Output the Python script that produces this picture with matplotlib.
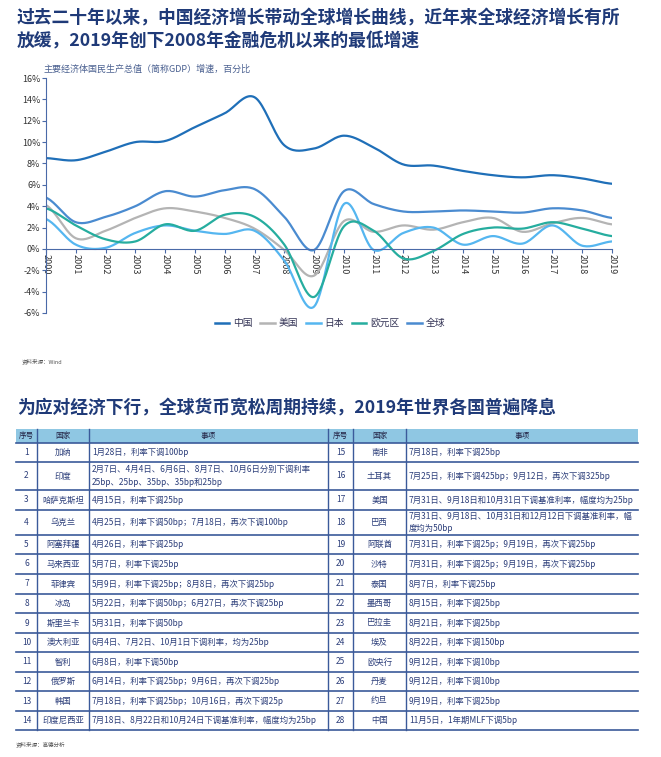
import numpy as np
import matplotlib
matplotlib.use("Agg")
import matplotlib.pyplot as plt
from matplotlib.lines import Line2D

plt.rcParams['font.family'] = ['Noto Sans CJK SC', 'DejaVu Sans']

years = list(range(2000, 2020))
china = [8.5, 8.3, 9.1, 10.0, 10.1, 11.4, 12.7, 14.2, 9.7, 9.4, 10.6, 9.5, 7.9, 7.8, 7.3, 6.9, 6.7, 6.9, 6.6, 6.1]
usa = [4.1, 1.0, 1.7, 2.9, 3.8, 3.5, 2.9, 1.9, -0.1, -2.5, 2.6, 1.6, 2.2, 1.8, 2.5, 2.9, 1.6, 2.4, 2.9, 2.3]
japan = [2.8, 0.4, 0.1, 1.5, 2.2, 1.7, 1.4, 1.7, -1.1, -5.4, 4.2, -0.1, 1.5, 2.0, 0.4, 1.2, 0.5, 2.2, 0.3, 0.7]
euro = [3.8, 2.2, 0.9, 0.7, 2.3, 1.7, 3.2, 3.0, 0.4, -4.5, 2.1, 1.7, -0.9, -0.2, 1.4, 2.0, 1.9, 2.5, 1.9, 1.2]
world = [4.8, 2.5, 3.0, 4.0, 5.4, 4.9, 5.5, 5.6, 3.0, -0.1, 5.4, 4.2, 3.5, 3.5, 3.6, 3.5, 3.4, 3.8, 3.6, 2.9]
series_names = ['中国', '美国', '日本', '欧元区', '全球']
series_colors = ['#1f6fb8', '#b4b4b4', '#55b6f0', '#26ad9f', '#4a8bd0']

left_rows = [
    ('1', '加纳', '1月28日，利率下调100bp'),
    ('2', '印度', '2月7日、4月4日、6月6日、8月7日、10月6日分别下调利率\n25bp、25bp、35bp、35bp和25bp'),
    ('3', '哈萨克斯坦', '4月15日，利率下调25bp'),
    ('4', '乌克兰', '4月25日，利率下调50bp；7月18日，再次下调100bp'),
    ('5', '阿塞拜疆', '4月26日，利率下调25bp'),
    ('6', '马来西亚', '5月7日，利率下调25bp'),
    ('7', '菲律宾', '5月9日，利率下调25bp；8月8日，再次下调25bp'),
    ('8', '冰岛', '5月22日，利率下调50bp；6月27日，再次下调25bp'),
    ('9', '斯里兰卡', '5月31日，利率下调50bp'),
    ('10', '澳大利亚', '6月4日、7月2日、10月1日下调利率，均为25bp'),
    ('11', '智利', '6月8日，利率下调50bp'),
    ('12', '俄罗斯', '6月14日，利率下调25bp；9月6日，再次下调25bp'),
    ('13', '韩国', '7月18日，利率下调25bp；10月16日，再次下调25p'),
    ('14', '印度尼西亚', '7月18日、8月22日和10月24日下调基准利率，幅度均为25bp'),
]
right_rows = [
    ('15', '南非', '7月18日，利率下调25bp'),
    ('16', '土耳其', '7月25日，利率下调425bp；9月12日，再次下调325bp'),
    ('17', '美国', '7月31日、9月18日和10月31日下调基准利率，幅度均为25bp'),
    ('18', '巴西', '7月31日、9月18日、10月31日和12月12日下调基准利率，幅\n度均为50bp'),
    ('19', '阿联酋', '7月31日，利率下调25p；9月19日，再次下调25bp'),
    ('20', '沙特', '7月31日，利率下调25p；9月19日，再次下调25bp'),
    ('21', '泰国', '8月7日，利率下调25bp'),
    ('22', '墨西哥', '8月15日，利率下调25bp'),
    ('23', '巴拉圭', '8月21日，利率下调25bp'),
    ('24', '埃及', '8月22日，利率下调150bp'),
    ('25', '欧央行', '9月12日，利率下调10bp'),
    ('26', '丹麦', '9月12日，利率下调10bp'),
    ('27', '约旦', '9月19日，利率下调25bp'),
    ('28', '中国', '11月5日，1年期MLF下调5bp'),
]

W, H = 661, 757
fig = plt.figure(figsize=(W / 100, H / 100), dpi=100)
navy = '#1f3a78'

def smooth(x, y, n=20):
    x = np.asarray(x, float); y = np.asarray(y, float)
    P = np.concatenate([[y[0]], y, [y[-1]]])
    xs, ys = [], []
    for i in range(len(x) - 1):
        p0, p1, p2, p3 = P[i], P[i + 1], P[i + 2], P[i + 3]
        t = np.linspace(0, 1, n, endpoint=False)
        ys.append(0.5 * (2 * p1 + (-p0 + p2) * t + (2 * p0 - 5 * p1 + 4 * p2 - p3) * t ** 2 + (-p0 + 3 * p1 - 3 * p2 + p3) * t ** 3))
        xs.append(x[i] + t * (x[i + 1] - x[i]))
    xs.append([x[-1]]); ys.append([y[-1]])
    return np.concatenate(xs), np.concatenate(ys)

# Titles
fig.text(17 / W, 1 - 18 / H, '过去二十年以来，中国经济增长带动全球增长曲线，近年来全球经济增长有所', fontsize=12.8,
         fontweight='bold', color=navy, va='center')
fig.text(17 / W, 1 - 41 / H, '放缓，2019年创下2008年金融危机以来的最低增速', fontsize=12.8,
         fontweight='bold', color=navy, va='center')
fig.text(44 / W, 1 - 69 / H, '主要经济体国民生产总值（简称GDP）增速，百分比', fontsize=6.5, color='#4a6090', va='center')

ax = fig.add_axes([46 / W, 1 - 313 / H, (612 - 46) / W, (313 - 78) / H])
for name, vals, c in zip(series_names, [china, usa, japan, euro, world], series_colors):
    xs, ys = smooth(years, vals)
    ax.plot(xs, ys, color=c, lw=1.6, label=name)
ax.set_xlim(2000, 2019)
ax.set_ylim(-6, 16)
ax.set_yticks(range(-6, 17, 2))
ax.set_yticklabels([f'{v}%' for v in range(-6, 17, 2)], fontsize=6.5, color='#333333')
for s in ['top', 'right']:
    ax.spines[s].set_visible(False)
ax.spines['bottom'].set_position(('data', 0))
ax.spines['bottom'].set_color('#4a6aa8')
ax.spines['left'].set_color('#4a6aa8')
ax.set_xticks(years)
ax.set_xticklabels([str(y) for y in years], rotation=-90, fontsize=6.5, color='#333333', va='top')
ax.tick_params(length=3, color='#4a6aa8', pad=1)
fig.legend(handles=[Line2D([], [], color=c, lw=1.8) for c in series_colors], labels=series_names,
           loc='center', bbox_to_anchor=(330 / W, 1 - 323 / H), ncol=5, frameon=False,
           fontsize=7, handlelength=1.5, columnspacing=0.8, handletextpad=0.4, labelcolor='#333355')
fig.text(22 / W, 1 - 361 / H, '资料来源：Wind', fontsize=4, color='#555555', va='center')

# Table
fig.text(17 / W, 1 - 408 / H, '为应对经济下行，全球货币宽松周期持续，2019年世界各国普遍降息', fontsize=12.8,
         fontweight='bold', color=navy, va='center')
tx = fig.add_axes([0, 0, 1, 1])
tx.set_xlim(0, W); tx.set_ylim(H, 0); tx.axis('off')
cols = [16, 37, 89, 328, 353, 406, 638]
bounds = [429, 443, 462, 490, 510, 535, 554, 574, 594, 613, 633, 652, 672, 691, 711, 730]
tx.add_patch(plt.Rectangle((cols[0], bounds[0]), cols[-1] - cols[0], bounds[1] - bounds[0], color='#8fc7e3', lw=0))
hdr = ['序号', '国家', '事项', '序号', '国家', '事项']
for i, h in enumerate(hdr):
    tx.text((cols[i] + cols[i + 1]) / 2, (bounds[0] + bounds[1]) / 2, h, fontsize=5.5, ha='center', va='center', color='#222244')
tcol = '#2c3e7a'
for r, (L, R) in enumerate(zip(left_rows, right_rows)):
    yc = (bounds[r + 1] + bounds[r + 2]) / 2
    for off, row in ((0, L), (3, R)):
        tx.text((cols[off] + cols[off + 1]) / 2, yc, row[0], fontsize=6, ha='center', va='center', color=tcol)
        tx.text((cols[off + 1] + cols[off + 2]) / 2, yc, row[1], fontsize=6, ha='center', va='center', color=tcol)
        tx.text(cols[off + 2] + 3, yc, row[2], fontsize=6, ha='left', va='center', color=tcol, linespacing=1.5)
for b in bounds[1:]:
    tx.plot([cols[0], cols[-1]], [b, b], color='#3b5a9a', lw=1.2)
for c in cols[1:-1]:
    tx.plot([c, c], [bounds[0], bounds[-1]], color='#3b5a9a', lw=1.0)
fig.text(16 / W, 1 - 744 / H, '资料来源：高德分析', fontsize=4, color='#555555', va='center')

fig.savefig('out.png', dpi=100)
